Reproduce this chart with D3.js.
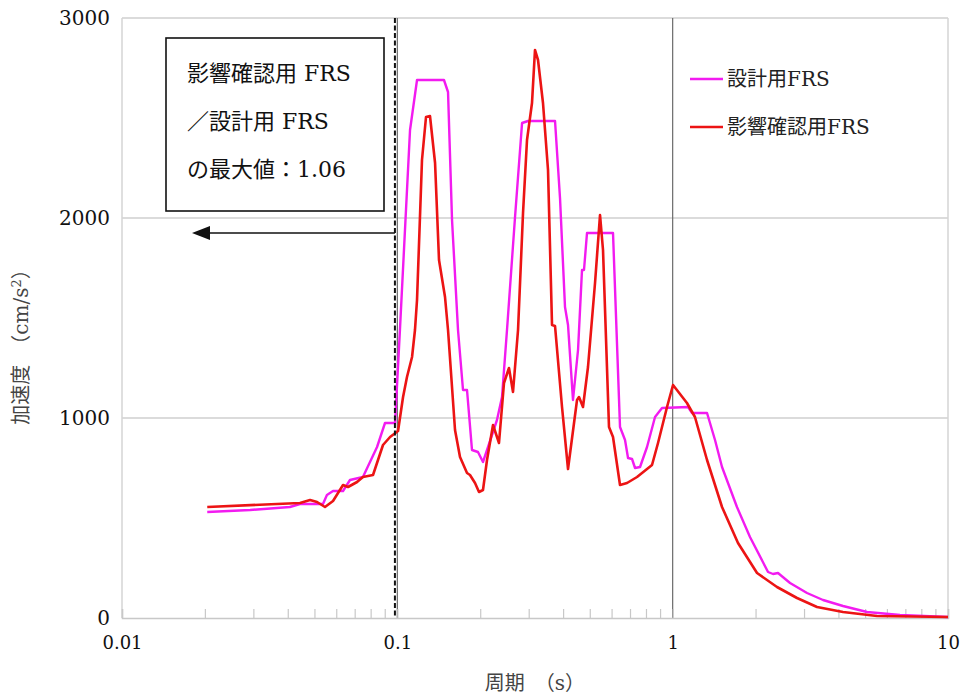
<!DOCTYPE html>
<html><head><meta charset="utf-8">
<script src="https://cdn.jsdelivr.net/npm/d3@7"></script>
<style>
body{margin:0;background:#fff;}
</style></head>
<body><svg id="c" width="965" height="698"></svg>
<script>
// Design FRS (設計用FRS): period (s)
const designT = [0.0204,0.0292,0.0407,0.0443,0.0537,0.0555,0.0584,0.0635,0.0673,0.075,0.0844,0.0902,0.0981,
  0.1022,0.1112,0.1179,0.1477,0.1528,0.158,0.1661,0.1732,0.1791,0.1867,0.1963,0.2047,0.2135,0.2301,0.24,0.2502,
  0.2676,0.2838,0.2983,0.3739,0.3898,0.4064,0.4168,0.4345,0.4532,0.4685,0.4764,0.4885,0.6072,0.6438,0.6714,0.6885,
  0.7119,0.73,0.7612,0.807,0.8628,0.9148,1.137,1.176,1.333,1.425,1.511,1.712,1.909,2.22,2.315,2.413,2.669,3.076,
  3.516,4.156,5.081,6.694,10];
const designA = [530,540,555,570,570,615,635,635,690,705,855,975,975,
  1440,2440,2690,2690,2630,1990,1440,1140,1140,840,830,780,855,990,1105,1440,
  2005,2475,2485,2485,2100,1555,1465,1090,1340,1740,1740,1925,1925,955,890,800,
  795,750,755,855,1005,1050,1055,1025,1025,890,755,555,405,230,220,225,175,125,
  90,60,30,15,5];
// Impact-check FRS (影響確認用FRS)
const checkT = [0.0204,0.0443,0.0482,0.0511,0.0546,0.0584,0.0635,0.0662,0.0714,0.075,0.0816,0.0887,0.0941,0.1006,
  0.1049,0.1084,0.1131,0.1159,0.1179,0.1229,0.1271,0.1314,0.1371,0.1417,0.149,0.1528,0.162,0.1689,0.1791,0.1836,
  0.1915,0.198,0.2047,0.2117,0.2226,0.234,0.244,0.2544,0.2631,0.2744,0.2861,0.2958,0.3084,0.3162,0.3243,0.3381,
  0.3526,0.3646,0.3739,0.3964,0.4168,0.4494,0.4569,0.4724,0.4926,0.5224,0.5447,0.5585,0.5872,0.6072,0.6438,0.6828,
  0.7423,0.807,0.8414,0.8847,0.9539,1.003,1.127,1.205,1.333,1.511,1.727,2.025,2.393,2.829,3.344,4.156,5.524,10];
const checkA = [555,575,590,580,555,585,665,655,680,705,715,865,905,935,
  1105,1205,1305,1440,1590,2290,2505,2510,2275,1790,1605,1440,940,805,725,715,
  675,630,640,790,965,875,1175,1250,1130,1440,2025,2390,2575,2840,2790,2575,
  2240,1465,1460,1055,745,1090,1105,1055,1255,1675,2015,1840,955,905,665,675,
  705,745,765,875,1055,1165,1075,1005,790,555,375,225,155,100,55,30,10,5];
const xMajor = [0.01,0.1,1,10];
const xMajorLabels = ["0.01","0.1","1","10"];
const yTicks = [0,1000,2000,3000];
const seriesNames = ["設計用FRS","影響確認用FRS"];
const ratioLines = ["影響確認用 FRS","／設計用 FRS","の最大値：1.06"];
const limitT = 0.098;
const arrowA = 1925;

const FONT = "'DejaVu Serif','Liberation Serif','Noto Sans CJK JP',serif";
const svg = d3.select("#c").style("font-family",FONT);
const L=122,R=948,T=18,B=618;
const x = d3.scaleLog().domain([0.01,10]).range([L,R]);
const y = d3.scaleLinear().domain([0,3000]).range([B,T]);

// horizontal grid
svg.append("g").selectAll("line").data(yTicks.slice(1)).join("line")
  .attr("x1",L).attr("x2",R).attr("y1",d=>y(d)).attr("y2",d=>y(d))
  .attr("stroke","#cfcfcf").attr("stroke-width",1.5);
// vertical edges
svg.append("g").selectAll("line").data([0.01,10]).join("line")
  .attr("x1",d=>x(d)).attr("x2",d=>x(d)).attr("y1",T).attr("y2",B)
  .attr("stroke","#d4d4d4").attr("stroke-width",1.5);
// vertical grid at 0.1 and 1
svg.append("g").selectAll("line").data([0.1,1]).join("line")
  .attr("x1",d=>x(d)).attr("x2",d=>x(d)).attr("y1",T).attr("y2",B)
  .attr("stroke","#6a6a6a").attr("stroke-width",1.2);

// minor ticks
const minor=[];
[0.01,0.1,1].forEach(b=>{for(let k=2;k<=9;k++)minor.push(b*k);});
const xa = svg.append("g").attr("transform",`translate(0,${B})`)
  .call(d3.axisBottom(x).tickValues(minor.concat(xMajor)).tickSize(-9).tickFormat(""));
xa.select(".domain").attr("stroke","#c8c8c8").attr("stroke-width",1.5);
xa.selectAll(".tick line").attr("stroke","#c8c8c8").attr("stroke-width",1.2);

const xl = svg.append("g").attr("transform",`translate(0,${B})`)
  .call(d3.axisBottom(x).tickValues(xMajor).tickSize(0).tickPadding(18)
  .tickFormat((d,i)=>xMajorLabels[i]));
xl.select(".domain").remove();
xl.attr("font-family",FONT).attr("font-size",18);
xl.selectAll("text").attr("fill","#111");

const yl = svg.append("g").attr("transform",`translate(${L},0)`)
  .call(d3.axisLeft(y).tickValues(yTicks).tickSize(0).tickPadding(12).tickFormat(d3.format("d")));
yl.select(".domain").remove();
yl.attr("font-family",FONT).attr("font-size",20);
yl.selectAll("text").attr("fill","#111");

// curves
const line = d3.line().x(d=>x(d[0])).y(d=>y(d[1]));
svg.append("path").datum(designT.map((t,i)=>[t,designA[i]]))
  .attr("d",line).attr("fill","none").attr("stroke","#f21bf0").attr("stroke-width",2.4).attr("stroke-linejoin","round");
svg.append("path").datum(checkT.map((t,i)=>[t,checkA[i]]))
  .attr("d",line).attr("fill","none").attr("stroke","#ec1414").attr("stroke-width",2.6).attr("stroke-linejoin","round");

// dashed limit line
svg.append("line").attr("x1",x(limitT)).attr("x2",x(limitT)).attr("y1",T).attr("y2",B)
  .attr("stroke","#111").attr("stroke-width",2).attr("stroke-dasharray","5,2.5");

// arrow
const ay=y(arrowA);
svg.append("line").attr("x1",x(limitT)).attr("x2",207).attr("y1",ay).attr("y2",ay)
  .attr("stroke","#111").attr("stroke-width",1.4);
svg.append("path").attr("d",`M192,${ay} L210,${ay-7} L210,${ay+7} Z`).attr("fill","#111");

// annotation box
svg.append("rect").attr("x",166).attr("y",38).attr("width",218).attr("height",173)
  .attr("fill","#fff").attr("stroke","#111").attr("stroke-width",1.6);
svg.append("g").attr("font-family",FONT).selectAll("text").data(ratioLines).join("text")
  .attr("x",187).attr("y",(d,i)=>81+i*48).attr("font-size",22).attr("fill","#111").text(d=>d);

// legend
const lg = svg.append("g").attr("font-family",FONT);
const cols=["#f21bf0","#ec1414"];
seriesNames.forEach((n,i)=>{
  const yy=79+i*48;
  lg.append("line").attr("x1",690).attr("x2",723).attr("y1",yy).attr("y2",yy)
    .attr("stroke",cols[i]).attr("stroke-width",2.5);
  lg.append("text").attr("x",727).attr("y",yy+7).attr("font-size",20).attr("fill","#222").text(n);
});

// axis titles
svg.append("text").attr("x",535).attr("y",690).attr("text-anchor","middle").attr("font-size",20)
  .attr("font-family",FONT).attr("fill","#444").text("周期　（s）");
const yt = svg.append("text").attr("transform","translate(28,342) rotate(-90)").attr("text-anchor","middle")
  .attr("font-family",FONT).attr("font-size",20).attr("fill","#444");
yt.append("tspan").text("加速度　（cm/s");
yt.append("tspan").attr("font-size",13).attr("dy",-7).text("2");
yt.append("tspan").attr("dy",7).text("）");
</script></body></html>
